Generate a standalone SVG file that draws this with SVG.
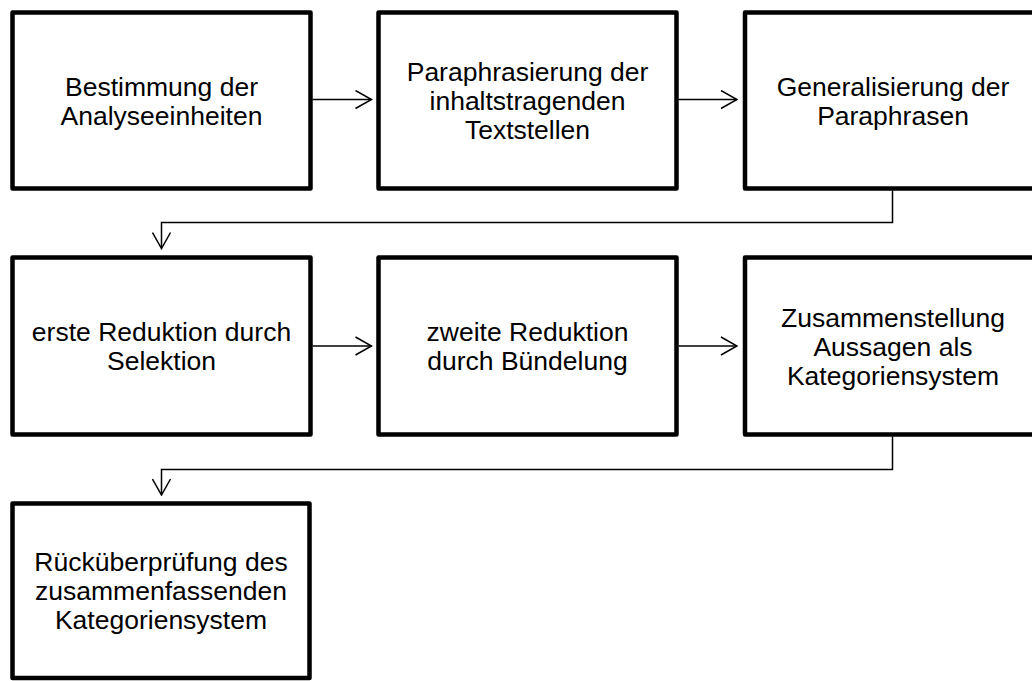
<svg xmlns="http://www.w3.org/2000/svg" width="1032" height="681" viewBox="0 0 1032 681">
  <style>
    .box { fill: #ffffff; stroke: #000000; stroke-width: 4.5; stroke-linejoin: round; }
    .lbl { font-family: "Liberation Sans", Arial, sans-serif; font-size: 26.5px; fill: #000000; text-anchor: middle; }
    .conn { fill: none; stroke: #000000; stroke-width: 1.5; }
  </style>
  <defs>
    <marker id="open-arrow" viewBox="0 0 18 20" refX="17" refY="10" markerWidth="18" markerHeight="20" markerUnits="userSpaceOnUse" orient="auto">
      <path d="M1,1 L17,10 L1,19" fill="none" stroke="#000000" stroke-width="1.5"/>
    </marker>
  </defs>
  <rect width="1032" height="681" fill="#ffffff"/>

  <!-- row 1 -->
  <g id="n1">
    <rect class="box" x="12.5" y="12.5" width="298" height="176"/>
    <text class="lbl" x="161.5" y="95.5">Bestimmung der</text>
    <text class="lbl" x="161.5" y="124.5">Analyseeinheiten</text>
  </g>
  <g id="n2">
    <rect class="box" x="378.5" y="12.5" width="298" height="176"/>
    <text class="lbl" x="527.5" y="81">Paraphrasierung der</text>
    <text class="lbl" x="527.5" y="110">inhaltstragenden</text>
    <text class="lbl" x="527.5" y="139">Textstellen</text>
  </g>
  <g id="n3">
    <rect class="box" x="745" y="12.5" width="298" height="176"/>
    <text class="lbl" x="893" y="95.5">Generalisierung der</text>
    <text class="lbl" x="893" y="124.5">Paraphrasen</text>
  </g>

  <!-- row 2 -->
  <g id="n4">
    <rect class="box" x="12.5" y="257.5" width="298" height="177"/>
    <text class="lbl" x="161.5" y="341">erste Reduktion durch</text>
    <text class="lbl" x="161.5" y="370">Selektion</text>
  </g>
  <g id="n5">
    <rect class="box" x="378.5" y="257.5" width="298" height="177"/>
    <text class="lbl" x="527.5" y="341">zweite Reduktion</text>
    <text class="lbl" x="527.5" y="370">durch Bündelung</text>
  </g>
  <g id="n6">
    <rect class="box" x="745" y="257.5" width="298" height="177"/>
    <text class="lbl" x="893" y="326.5">Zusammenstellung</text>
    <text class="lbl" x="893" y="355.5">Aussagen als</text>
    <text class="lbl" x="893" y="384.5">Kategoriensystem</text>
  </g>

  <!-- row 3 -->
  <g id="n7">
    <rect class="box" x="12.5" y="503.5" width="297" height="174.5"/>
    <text class="lbl" x="161" y="571">Rücküberprüfung des</text>
    <text class="lbl" x="161" y="600">zusammenfassenden</text>
    <text class="lbl" x="161" y="629">Kategoriensystem</text>
  </g>

  <g id="connectors">
    <path class="conn" d="M312.5,99.5 H371.5" marker-end="url(#open-arrow)"/>
    <path class="conn" d="M678.5,99.5 H737" marker-end="url(#open-arrow)"/>
    <path class="conn" d="M892.5,190.5 V222.5 H161.5 V248.5" marker-end="url(#open-arrow)"/>
    <path class="conn" d="M312.5,346 H371.5" marker-end="url(#open-arrow)"/>
    <path class="conn" d="M678.5,346 H737" marker-end="url(#open-arrow)"/>
    <path class="conn" d="M892.5,436.5 V469.5 H161.5 V495" marker-end="url(#open-arrow)"/>
  </g>
</svg>
